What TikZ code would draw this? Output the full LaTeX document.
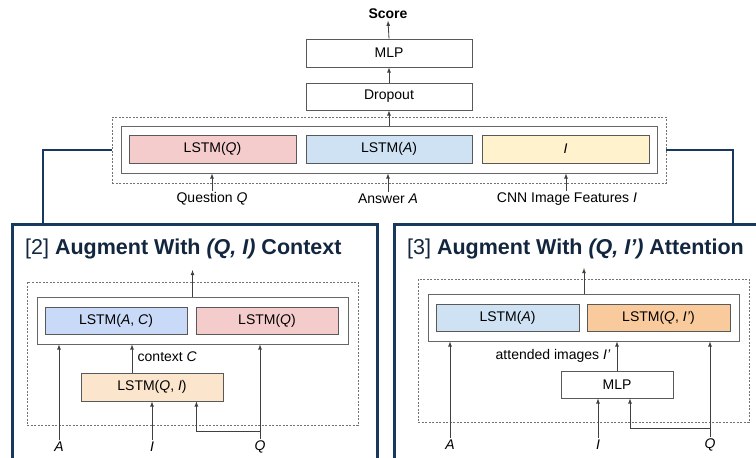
\documentclass[tikz,border=0pt]{standalone}
\usepackage{fontspec}
\setmainfont{Liberation Sans}
\usetikzlibrary{arrows,positioning,calc}
\definecolor{navy}{RGB}{24,56,94}
\definecolor{titlenavy}{RGB}{18,38,62}
\definecolor{pinkq}{HTML}{F4CCCC}
\definecolor{bluea}{HTML}{CFE2F3}
\definecolor{bluec}{HTML}{C9DAF8}
\definecolor{yellowi}{HTML}{FFF2CC}
\definecolor{orangeqi}{HTML}{FCE5CD}
\definecolor{orangeatt}{HTML}{F9CB9C}
\tikzset{
  blk/.style={draw=black!65, line width=0.8pt, inner sep=0pt, minimum height=28pt, text=black},
  holder/.style={draw=black!60, line width=0.8pt, inner sep=0pt},
  dashbox/.style={draw=black!55, dash pattern=on 2pt off 1.5pt, line width=0.7pt, inner sep=0pt},
  arr/.style={-latex, draw=black!75, line width=0.8pt},
  frame/.style={draw=navy, line width=3pt, inner sep=0pt},
  conn/.style={draw=navy, line width=2.5pt},
  lbl/.style={inner sep=1.5pt, text=black},
  heading/.style={font=\fontsize{21.5}{24}\selectfont, text=titlenavy, anchor=west, inner sep=0pt}
}
\begin{document}
\begin{tikzpicture}[x=1pt,y=-1pt,font=\fontsize{14}{16}\selectfont]
            \path[use as bounding box] (0,0) rectangle (756,458);
            \clip (0,0) rectangle (756,458);
            % top model
            \node[dashbox, minimum width=554, minimum height=66] (dtop) at (389,150) {};
            \node[holder, minimum width=536, minimum height=47] (htop) at (389,149.5) {};
            \node[blk, fill=pinkq, minimum width=167] (lq) at (212.5,149) {LSTM(\textit{Q})};
            \node[blk, fill=bluea, minimum width=166] (la) at (389,149) {LSTM(\textit{A})};
            \node[blk, fill=yellowi, minimum width=167] (li) at (565.5,149) {\textit{I}};
            \node[blk, minimum width=166, minimum height=27] (drop) at (389,96.5) {Dropout};
            \node[blk, minimum width=166] (mlp) at (389,53) {MLP};
            \node[lbl, font=\fontsize{14}{16}\selectfont\bfseries] (score) at (388,14) {Score};
            \node[lbl] (qin) at (212,199) {Question \textit{Q}};
            \node[lbl] (ain) at (388,199) {Answer \textit{A}};
            \node[lbl] (iin) at (567,199) {CNN Image Features \textit{I}};
            \draw[arr] (htop.north) -- (drop.south);
            \draw[arr] (drop.north) -- (mlp.south);
            \draw[arr] (mlp.north) -- (score.south);
            \draw[arr] (qin.north) -- (qin.north |- htop.south);
            \draw[arr] (ain.north) -- (ain.north |- htop.south);
            \draw[arr] ([xshift=-1pt]iin.north) -- ([xshift=-1pt]iin.north |- htop.south);

            % [2] context
            \node[frame, minimum width=365, minimum height=256] (box2) at (194.5,352) {};
            \coordinate (j2) at (43,224);
            \draw[conn] (dtop.west) -| (j2);
            \node[heading] (t2) at (25,249) {[2] \textbf{Augment With \textit{(Q, I)} Context}};
            \node[dashbox, minimum width=331, minimum height=143] (d2) at (192.5,353.5) {};
            \node[holder, minimum width=311, minimum height=47] (h2) at (192.5,320.5) {};
            \node[blk, fill=bluec, minimum width=142, minimum height=27] (lac) at (116,320.5) {LSTM(\textit{A}, \textit{C})};
            \node[blk, fill=pinkq, minimum width=142, minimum height=27] (lq2) at (267,320.5) {LSTM(\textit{Q})};
            \node[blk, fill=orangeqi, minimum width=142] (lqi) at (152,387) {LSTM(\textit{Q}, \textit{I})};
            \node[lbl, anchor=west] (ctx) at (136,357) {context \textit{C}};
            \node[lbl] (a2) at (59,447) {\textit{A}};
            \node[lbl] (i2) at (152,447) {\textit{I}};
            \node[lbl] (q2) at (260,447) {\textit{Q}};
            \coordinate (o2) at (192.5,270);
            \coordinate (c2) at ($(lqi.north)+(-20,0)$);
            \coordinate (k2) at ($(lqi.south east)+(-27,0)$);
            \coordinate (y2) at (0,431);
            \draw[arr] (h2.north) -- (o2);
            \draw[arr] (c2) -- (c2 |- h2.south);
            \draw[arr] (a2.north) -- (a2.north |- h2.south);
            \draw[arr] (i2.north) -- (lqi.south);
            \draw[arr] (q2.north) -- (q2.north |- h2.south);
            \draw[arr] (q2 |- y2) -| (k2);

            % [3] attention
            \node[frame, minimum width=376, minimum height=256] (box3) at (582,352) {};
            \coordinate (j3) at (733,224);
            \draw[conn] (dtop.east) -| (j3);
            \node[heading] (t3) at (407,249) {[3] \textbf{Augment With \textit{(Q, I’)} Attention}};
            \node[dashbox, minimum width=331, minimum height=143] (d3) at (583.5,350.5) {};
            \node[holder, minimum width=311, minimum height=47] (h3) at (583.5,317.5) {};
            \node[blk, fill=bluea, minimum width=143, minimum height=27] (la3) at (507.5,317.5) {LSTM(\textit{A})};
            \node[blk, fill=orangeatt, minimum width=143, minimum height=27] (lqa) at (658.5,317.5) {LSTM(\textit{Q}, \textit{I’})};
            \node[blk, minimum width=112, minimum height=27] (mlp3) at (617,384.5) {MLP};
            \node[lbl, anchor=east] (att) at (612,356) {attended images \textit{I’}};
            \node[lbl] (a3) at (450,445) {\textit{A}};
            \node[lbl] (i3) at (598,445) {\textit{I}};
            \node[lbl] (q3) at (710,445) {\textit{Q}};
            \coordinate (o3) at (584,268);
            \coordinate (k3) at ($(mlp3.south)+(13,0)$);
            \coordinate (y3) at (0,428);
            \draw[arr] (h3.north -| o3) -- (o3);
            \draw[arr] (mlp3.north) -- (mlp3.north |- h3.south);
            \draw[arr] (a3.north) -- (a3.north |- h3.south);
            \draw[arr] (i3.north) -- (i3.north |- mlp3.south);
            \draw[arr] (q3.north) -- (q3.north |- h3.south);
            \draw[arr] (q3 |- y3) -| (k3);
        \end{tikzpicture}
\end{document}
